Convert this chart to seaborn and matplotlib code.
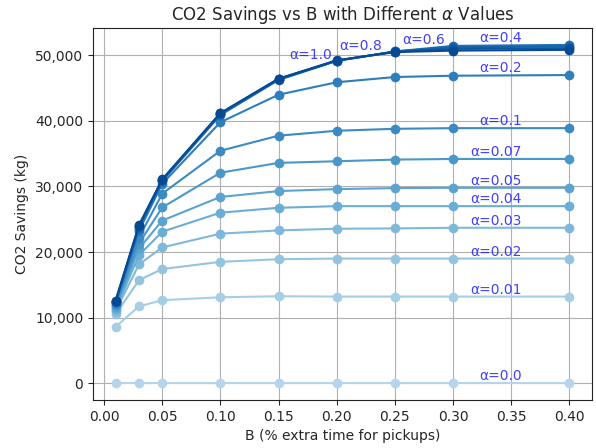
import numpy as np
import pandas as pd
import matplotlib
matplotlib.use("Agg")
import matplotlib.pyplot as plt
from matplotlib.ticker import FuncFormatter
import seaborn as sns

B_values = [0.01, 0.03, 0.05, 0.10, 0.15, 0.20, 0.25, 0.30, 0.40]
alpha_labels = ["0.0", "0.01", "0.02", "0.03", "0.04", "0.05", "0.07", "0.1", "0.2", "0.4", "0.6", "0.8", "1.0"]

sav_00 = [0, 0, 0, 0, 0, 0, 0, 0, 0]
sav_001 = [8600, 11700, 12650, 13100, 13250, 13200, 13200, 13200, 13200]
sav_002 = [10500, 15700, 17400, 18500, 18900, 19000, 19000, 19000, 19000]
sav_003 = [11000, 18100, 20700, 22800, 23300, 23550, 23600, 23700, 23700]
sav_004 = [11300, 19500, 23100, 26000, 26750, 27000, 27000, 27000, 27000]
sav_005 = [11600, 20500, 24800, 28400, 29300, 29600, 29750, 29800, 29800]
sav_007 = [11900, 21300, 26800, 32100, 33600, 33850, 34100, 34200, 34200]
sav_01 = [12100, 22200, 28900, 35450, 37750, 38500, 38800, 38900, 38900]
sav_02 = [12300, 23200, 30400, 39800, 44000, 45900, 46700, 46900, 47000]
sav_04 = [12400, 23500, 30800, 40900, 46250, 49150, 50600, 51450, 51600]
sav_06 = [12450, 23750, 30950, 41050, 46350, 49200, 50600, 51250, 51350]
sav_08 = [12550, 23950, 31000, 41150, 46400, 49200, 50550, 51000, 51100]
sav_10 = [12600, 24100, 31100, 41200, 46450, 49250, 50500, 50730, 50850]

series = [sav_00, sav_001, sav_002, sav_003, sav_004, sav_005, sav_007,
          sav_01, sav_02, sav_04, sav_06, sav_08, sav_10]

# annotation anchor positions (right edge, bottom) for each alpha label
label_x = [0.359, 0.359, 0.359, 0.359, 0.359, 0.359, 0.359, 0.359, 0.359, 0.359, 0.293, 0.239, 0.196]
label_y = [0, 13200, 19000, 23700, 27000, 29800, 34200, 38900, 47000, 51600, 51290, 50400, 49000]

rows = []
for lab, vals in zip(alpha_labels, series):
    for b, v in zip(B_values, vals):
        rows.append({"B": b, "savings": v, "alpha": lab})
df = pd.DataFrame(rows)

sns.set_style("ticks", {
    "axes.grid": True,
    "grid.color": "#b0b0b0",
    "axes.edgecolor": "#222222",
})
plt.rcParams["grid.linewidth"] = 0.8
plt.rcParams["font.family"] = ["DejaVu Sans"]

colors = [plt.cm.Blues(v) for v in np.linspace(0.3, 0.9, len(alpha_labels))]

fig, ax = plt.subplots(figsize=(5.96, 4.48), dpi=100)
fig.subplots_adjust(left=0.156, right=0.9933, top=0.9375, bottom=0.1071)

sns.lineplot(data=df, x="B", y="savings", hue="alpha", hue_order=alpha_labels,
             palette=colors, marker="o", markersize=7, markeredgewidth=0,
             linewidth=1.5, errorbar=None, legend=False, ax=ax, sort=True)

for lab, lx, ly in zip(alpha_labels, label_x, label_y):
    ax.annotate("α=" + lab, xy=(lx, ly), xytext=(0, 0), textcoords="offset points",
                ha="right", va="bottom", color="blue", alpha=0.75, fontsize=10)

ax.yaxis.set_major_formatter(FuncFormatter(lambda v, p: f"{v:,.0f}"))
ax.set_xticks([0.0, 0.05, 0.10, 0.15, 0.20, 0.25, 0.30, 0.35, 0.40])
ax.set_xticklabels(["0.00", "0.05", "0.10", "0.15", "0.20", "0.25", "0.30", "0.35", "0.40"])
ax.tick_params(labelsize=10, length=3.5)
ax.set_xlabel("B (% extra time for pickups)", fontsize=10)
ax.set_ylabel("CO2 Savings (kg)", fontsize=10)
ax.set_title(r"CO2 Savings vs B with Different $\alpha$ Values", fontsize=12)
ax.set_axisbelow(True)
ax.margins(x=0.05, y=0.05)

fig.savefig("out.png", dpi=100)
